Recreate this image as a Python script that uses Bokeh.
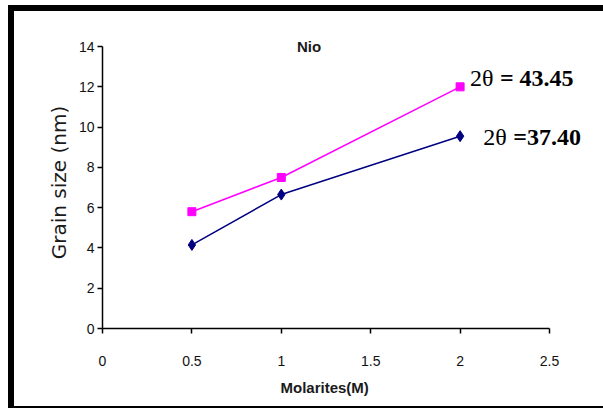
from bokeh.plotting import figure
from bokeh.models import Label, FixedTicker, InlineStyleSheet, Title
from bokeh.layouts import column
from bokeh.embed import file_html
from bokeh.resources import INLINE

# Data
molarity = [0.5, 1.0, 2.0]
grain_43 = [5.8, 7.5, 12.0]   # 2θ = 43.45 (pink squares)
grain_37 = [4.15, 6.65, 9.55]  # 2θ = 37.40 (navy diamonds)
x_ticks = [0, 0.5, 1, 1.5, 2, 2.5]
y_ticks = [0, 2, 4, 6, 8, 10, 12, 14]

# Frame extends past the axes so in-plot labels are not clipped;
# axis bounds keep the axis lines to 0–2.5 and 0–14.
p = figure(width=603, height=409, output_backend="svg", toolbar_location=None,
           x_range=(0, 2.802), y_range=(0, 14.5),
           min_border_left=102, min_border_right=0, min_border_top=36, min_border_bottom=81)
p.outline_line_color = None
p.background_fill_color = "white"
p.border_fill_color = "white"
p.xgrid.visible = False
p.ygrid.visible = False

for ax in (p.xaxis[0], p.yaxis[0]):
    ax.axis_line_color = "black"
    ax.axis_line_width = 1.5
    ax.major_tick_line_color = "black"
    ax.major_tick_line_width = 1.5
    ax.major_tick_out = 5
    ax.major_tick_in = 0
    ax.minor_tick_line_color = None
    ax.major_label_text_font = "Liberation Sans"
    ax.major_label_text_font_size = "14px"
    ax.major_label_text_color = "#111111"
    ax.axis_label_text_color = "#1a1a1a"

p.xaxis.bounds = (0, 2.5)
p.yaxis.bounds = (0, 14)
p.xaxis.ticker = FixedTicker(ticks=x_ticks)
p.yaxis.ticker = FixedTicker(ticks=y_ticks)
p.xaxis.major_label_standoff = 22
p.yaxis.major_label_standoff = 3
p.yaxis.axis_label = "Grain size (nm)"
p.yaxis.axis_label_text_font = "DejaVu Sans"
p.yaxis.axis_label_text_font_size = "20px"
p.yaxis.axis_label_text_font_style = "normal"
p.yaxis.axis_label_standoff = 5

# x-axis title placed under the axis, aligned to the 0–2.5 span
p.add_layout(Title(text="Molarites(M)", align="left", offset=178, standoff=16,
                   text_font="Liberation Sans", text_font_size="15px",
                   text_font_style="bold", text_color="#1a1a1a"), "below")

pink = "#FF00FF"
navy = "#000080"
p.line(molarity, grain_43, line_color=pink, line_width=1.5)
p.scatter(molarity, grain_43, marker="square", size=8, fill_color=pink, line_color=pink)
p.line(molarity, grain_37, line_color=navy, line_width=1.5)
p.scatter(molarity, grain_37, marker="diamond", size=11, fill_color=navy, line_color=navy)

# Title inside the plot
p.add_layout(Label(x=1.155, y=14.0, text="Nio", text_font="Liberation Sans",
                   text_font_size="15px", text_font_style="bold", text_color="#1a1a1a",
                   text_align="center", text_baseline="middle"))

# Series annotations
def annot(x, y, eq, dx):
    p.add_layout(Label(x=x, y=y, text="2θ", text_font="Liberation Serif",
                       text_font_size="24px", text_color="black",
                       text_align="left", text_baseline="middle"))
    p.add_layout(Label(x=x, y=y, x_offset=dx, text=eq, text_font="Liberation Serif",
                       text_font_size="24px", text_font_style="bold", text_color="black",
                       text_align="left", text_baseline="middle"))

annot(2.055, 12.45, "= 43.45", 30)
annot(2.13, 9.5, "=37.40", 30)

# Outer black frame (decorative CSS on a wrapping layout, clipped to it)
frame_css = InlineStyleSheet(css="""
:host { position: relative; overflow: hidden; }
:host::after {
  content: ""; position: absolute; left: 8px; top: 5px; width: 595px; height: 403px;
  border: none; pointer-events: none; z-index: 10;
  background:
    linear-gradient(#000, #000) left top / 6px 100% no-repeat,
    linear-gradient(#000, #000) left top / 100% 6px no-repeat,
    linear-gradient(#000, #000) left bottom / 100% 2px no-repeat;
}
""")
layout = column(p, width=603, height=409, stylesheets=[frame_css])

open("out.html", "w").write(file_html(layout, INLINE))
